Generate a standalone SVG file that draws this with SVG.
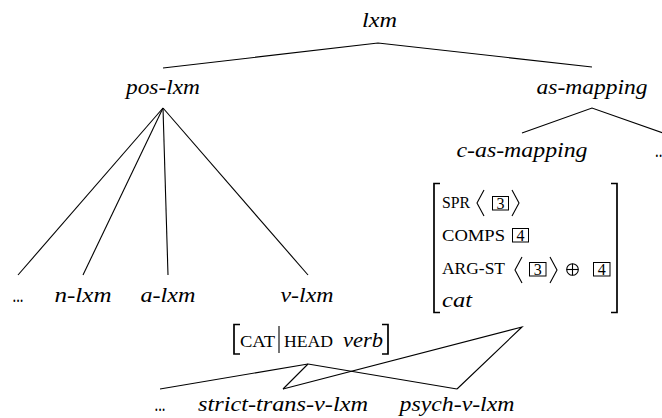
<svg xmlns="http://www.w3.org/2000/svg" width="662" height="418" viewBox="0 0 662 418">
<style>
.t{font-family:"Liberation Serif","Times New Roman",serif;font-style:italic;font-size:22px;fill:#000;text-anchor:middle}
.d{font-family:"Liberation Serif",serif;font-size:21px;fill:#000;text-anchor:middle}
.k{font-family:"Liberation Serif",serif;font-size:16px;fill:#000}
.n{font-family:"Liberation Serif",serif;font-size:16px;fill:#000;text-anchor:middle}
.e{stroke:#000;stroke-width:1.1;fill:none}
.b{stroke:#000;stroke-width:1.7;fill:none}
.bx{stroke:#000;stroke-width:1;fill:none}
.a{stroke:#000;stroke-width:1.1;fill:none}
</style>
<rect width="662" height="418" fill="#fff"/>
<g id="connectors">
<polyline class="e" points="163,68 378,43 592,67"/>
<line class="e" x1="163" y1="108" x2="18" y2="275"/>
<line class="e" x1="163" y1="108" x2="83" y2="275"/>
<line class="e" x1="163" y1="108" x2="168" y2="275"/>
<line class="e" x1="163" y1="108" x2="308" y2="275"/>
<polyline class="e" points="522,133 592,108 663,133"/>
<line class="e" x1="308" y1="364" x2="160" y2="389"/>
<line class="e" x1="308" y1="364" x2="283" y2="389"/>
<line class="e" x1="308" y1="364" x2="457" y2="389"/>
<polyline class="e" points="283,389 522,327 457,389"/>
</g>
<g id="lxm"><text class="t" x="379.5" y="27" textLength="35" lengthAdjust="spacingAndGlyphs">lxm</text></g>
<g id="pos-lxm"><text class="t" x="163" y="94" textLength="74" lengthAdjust="spacingAndGlyphs">pos-lxm</text></g>
<g id="as-mapping"><text class="t" x="592" y="94" textLength="111" lengthAdjust="spacingAndGlyphs">as-mapping</text></g>
<g id="c-as-mapping"><text class="t" x="522" y="157" textLength="131" lengthAdjust="spacingAndGlyphs">c-as-mapping</text></g>
<g id="as-more"><text class="d" x="655" y="157" style="text-anchor:start" textLength="11" lengthAdjust="spacingAndGlyphs">...</text></g>
<g id="pos-more"><text class="d" x="18" y="302" textLength="11" lengthAdjust="spacingAndGlyphs">...</text></g>
<g id="n-lxm"><text class="t" x="83" y="302" textLength="57" lengthAdjust="spacingAndGlyphs">n-lxm</text></g>
<g id="a-lxm"><text class="t" x="168" y="302" textLength="55" lengthAdjust="spacingAndGlyphs">a-lxm</text></g>
<g id="v-lxm"><text class="t" x="307" y="302" textLength="53" lengthAdjust="spacingAndGlyphs">v-lxm</text></g>
<g id="v-more"><text class="d" x="160" y="411" textLength="11" lengthAdjust="spacingAndGlyphs">...</text></g>
<g id="strict-trans-v-lxm"><text class="t" x="283" y="411" textLength="170" lengthAdjust="spacingAndGlyphs">strict-trans-v-lxm</text></g>
<g id="psych-v-lxm"><text class="t" x="457" y="411" textLength="115" lengthAdjust="spacingAndGlyphs">psych-v-lxm</text></g>
<g id="avm-c-as-mapping">
<polyline class="b" points="440,183.5 434,183.5 434,312.5 440,312.5"/>
<polyline class="b" points="611,183.5 617,183.5 617,312.5 611,312.5"/>
<text class="k" x="442" y="208" textLength="28" lengthAdjust="spacingAndGlyphs">SPR</text>
<polyline class="a" points="484,190 477,203 484,216"/>
<rect class="bx" x="492.5" y="196.5" width="16" height="13.5"/>
<text class="n" x="500.5" y="208.5">3</text>
<polyline class="a" points="512,190 519,203 512,216"/>
<text class="k" x="442" y="241" textLength="63" lengthAdjust="spacingAndGlyphs">COMPS</text>
<rect class="bx" x="512.5" y="228.5" width="16" height="13.5"/>
<text class="n" x="520.5" y="240.5">4</text>
<text class="k" x="442" y="274" textLength="63" lengthAdjust="spacingAndGlyphs">ARG-ST</text>
<polyline class="a" points="522,257 515,270 522,283"/>
<rect class="bx" x="529.5" y="262.5" width="16.5" height="13.5"/>
<text class="n" x="537.8" y="274.5">3</text>
<polyline class="a" points="550,257 557,270 550,283"/>
<circle class="a" cx="572.5" cy="269.5" r="5.8"/>
<line class="a" x1="566.7" y1="269.5" x2="578.3" y2="269.5"/>
<line class="a" x1="572.5" y1="263.7" x2="572.5" y2="275.3"/>
<rect class="bx" x="593.5" y="262.5" width="16.5" height="13.5"/>
<text class="n" x="601.8" y="274.5">4</text>
<text class="t" x="442" y="307" style="text-anchor:start" textLength="30" lengthAdjust="spacingAndGlyphs">cat</text>
</g>
<g id="avm-v-lxm">
<polyline class="b" points="240,324.5 234,324.5 234,354 240,354"/>
<polyline class="b" points="382,324.5 388,324.5 388,354 382,354"/>
<text class="k" x="240" y="347" textLength="35" lengthAdjust="spacingAndGlyphs">CAT</text>
<line class="a" x1="279" y1="326" x2="279" y2="353"/>
<text class="k" x="284" y="347" textLength="49" lengthAdjust="spacingAndGlyphs">HEAD</text>
<text class="t" x="343" y="347" style="text-anchor:start" textLength="40" lengthAdjust="spacingAndGlyphs">verb</text>
</g>
</svg>
